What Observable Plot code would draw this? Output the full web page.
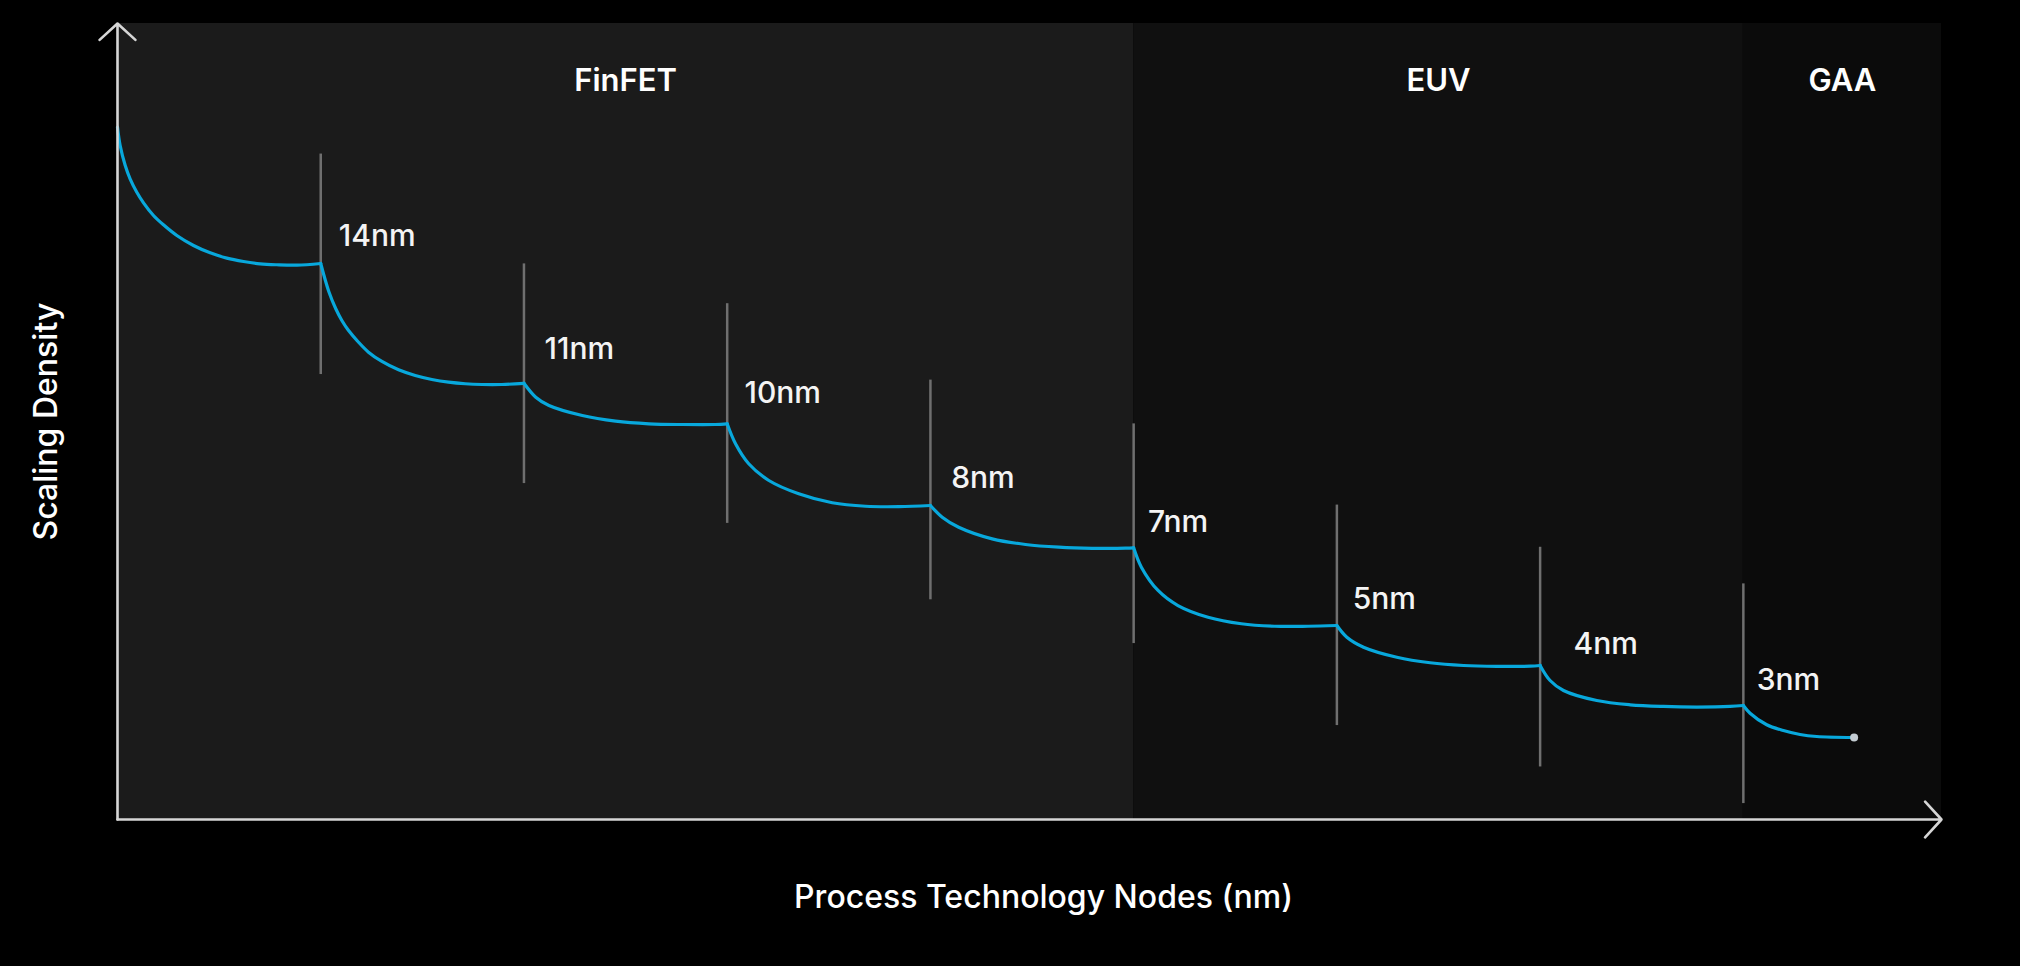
<!DOCTYPE html>
<html>
<head>
<meta charset="utf-8">
<script src="https://cdn.jsdelivr.net/npm/d3@7"></script>
<script src="https://cdn.jsdelivr.net/npm/@observablehq/plot@0.6"></script>
<style>
  html, body { margin: 0; padding: 0; background: #000; }
  #chart svg { display: block; }
</style>
</head>
<body>
<div id="chart"></div>
<script>
// ---- data ----
const eras = ["FinFET", "EUV", "GAA"];
const eraStart = [0, 5, 8];
const eraEnd = [5, 8, 8.975];

const nodeNames = ["14nm", "11nm", "10nm", "8nm", "7nm", "5nm", "4nm", "3nm"];
const nodeIndex = [1, 2, 3, 4, 5, 6, 7, 8];
const ruleTop = [83.6, 69.8, 64.8, 55.2, 49.7, 39.5, 34.2, 29.6];
const ruleBottom = [55.9, 42.2, 37.2, 27.6, 22.1, 11.8, 6.6, 2.0];
const labelX = [1.089, 2.101, 3.085, 4.102, 5.070, 6.078, 7.164, 8.066];
const labelY = [73.2, 59.1, 53.5, 42.8, 37.3, 27.6, 22.0, 17.5];

// scaling-density curve, one segment per node step
const curveSegment = [
  1,1,1,1,1,1,1,1,1,1,1,1,1,1,1,1,1,
  2,2,2,2,2,2,2,2,2,2,2,2,2,2,2,2,2,
  3,3,3,3,3,3,3,3,3,
  4,4,4,4,4,4,4,4,4,
  5,5,5,5,5,5,5,5,5,
  6,6,6,6,6,6,6,6,6,
  7,7,7,7,7,7,7,7,7,
  8,8,8,8,8,8,8,8,8,
  9,9,9,9,9,9,9
];
const curveX = [
  0.000, 0.013, 0.038, 0.062, 0.095, 0.128, 0.177, 0.226, 0.292, 0.374, 0.456, 0.538, 0.620, 0.702, 0.784, 0.883, 1.000,
  1.000, 1.016, 1.041, 1.074, 1.104, 1.137, 1.186, 1.235, 1.301, 1.383, 1.465, 1.547, 1.629, 1.711, 1.793, 1.891, 2.000,
  2.000, 2.058, 2.123, 2.287, 2.451, 2.615, 2.779, 2.941, 3.000,
  3.000, 3.041, 3.106, 3.205, 3.352, 3.517, 3.681, 3.845, 4.000,
  4.000, 4.058, 4.139, 4.304, 4.468, 4.632, 4.796, 4.960, 5.000,
  5.000, 5.038, 5.120, 5.218, 5.366, 5.530, 5.694, 5.858, 6.000,
  6.000, 6.049, 6.131, 6.295, 6.459, 6.623, 6.787, 6.951, 7.000,
  7.000, 7.049, 7.115, 7.279, 7.443, 7.607, 7.771, 7.935, 8.000,
  8.000, 8.033, 8.115, 8.197, 8.279, 8.361, 8.545
];
const curveY = [
  86.97, 84.67, 82.16, 80.49, 78.80, 77.47, 75.88, 74.71, 73.37, 72.11, 71.19, 70.52, 70.10, 69.81, 69.69, 69.64, 69.85,
  69.85, 68.34, 66.24, 64.16, 62.69, 61.43, 59.96, 58.71, 57.54, 56.49, 55.78, 55.28, 54.94, 54.74, 54.65, 54.65, 54.80,
  54.80, 53.05, 52.01, 50.75, 50.04, 49.71, 49.62, 49.62, 49.71,
  49.71, 47.20, 44.69, 42.59, 40.92, 39.79, 39.35, 39.30, 39.45,
  39.45, 37.98, 36.72, 35.26, 34.55, 34.21, 34.07, 34.08, 34.13,
  34.13, 31.70, 28.77, 26.88, 25.41, 24.59, 24.28, 24.28, 24.37,
  24.37, 22.90, 21.65, 20.39, 19.69, 19.35, 19.24, 19.26, 19.35,
  19.35, 17.46, 16.21, 14.95, 14.41, 14.20, 14.13, 14.20, 14.32,
  14.32, 13.35, 11.90, 11.18, 10.68, 10.43, 10.30
];

// ---- tables built from the arrays ----
const eraData = eras.map((name, i) => ({name, start: eraStart[i], end: eraEnd[i]}));
const nodeData = nodeNames.map((name, i) => ({
  name, x: nodeIndex[i], top: ruleTop[i], bottom: ruleBottom[i], lx: labelX[i], ly: labelY[i]
}));
const curveData = curveX.map((x, i) => ({seg: curveSegment[i], x, y: curveY[i]}));
const endPoint = [curveData[curveData.length - 1]];
const xMax = eraEnd[eraEnd.length - 1];
const yMax = 100;

const font = "Inter, 'Open Sans', sans-serif";

const chart = Plot.plot({
  width: 2020,
  height: 966,
  marginTop: 23,
  marginBottom: 147,
  marginLeft: 117,
  marginRight: 79,
  x: {domain: [0, xMax], axis: null},
  y: {domain: [0, yMax], axis: null},
  color: {domain: eras, range: ["#1b1b1b", "#101010", "#0b0b0b"]},
  style: {background: "#000", color: "#fff", fontFamily: font, overflow: "visible"},
  marks: [
    Plot.rect(eraData, {x1: "start", x2: "end", y1: () => 0, y2: () => yMax, fill: "name", inset: 0}),
    Plot.text(eraData, {
      x: d => (d.start + d.end) / 2, frameAnchor: "top", lineAnchor: "middle", dy: 58,
      text: "name", fill: "#fff", fontSize: 31, fontWeight: 600, fontFamily: font
    }),
    Plot.ruleX(nodeData, {x: "x", y1: "bottom", y2: "top", stroke: "#6f6f6f", strokeWidth: 2.5}),
    Plot.line(curveData, {
      x: "x", y: "y", z: "seg", curve: "catmull-rom",
      stroke: "#08a8dc", strokeWidth: 3.2, strokeLinejoin: "round"
    }),
    Plot.dot(endPoint, {x: "x", y: "y", r: 4, fill: "#c4ccd2", stroke: null}),
    Plot.text(nodeData, {
      x: "lx", y: "ly", text: "name", textAnchor: "start",
      fill: "#f4f4f4", fontSize: 30, fontWeight: 500, fontFamily: font
    }),
    Plot.arrow([{x1: 0, y1: 0, x2: 0, y2: yMax}], {
      x1: "x1", y1: "y1", x2: "x2", y2: "y2",
      stroke: "#d6d6d6", strokeWidth: 2.6, headLength: 14, headAngle: 95
    }),
    Plot.arrow([{x1: 0, y1: 0, x2: xMax, y2: 0}], {
      x1: "x1", y1: "y1", x2: "x2", y2: "y2",
      stroke: "#d6d6d6", strokeWidth: 2.6, headLength: 14, headAngle: 95
    }),
    Plot.text(["Process Technology Nodes (nm)"], {
      frameAnchor: "bottom", lineAnchor: "middle", textAnchor: "middle", dy: 78, dx: 14, text: d => d,
      fill: "#fff", fontSize: 32, fontWeight: 500, fontFamily: font
    }),
    Plot.text(["Scaling Density"], {
      frameAnchor: "left", lineAnchor: "middle", textAnchor: "middle", dx: -71, rotate: -90, text: d => d,
      fill: "#fff", fontSize: 32, fontWeight: 500, fontFamily: font
    })
  ]
});

document.getElementById("chart").appendChild(chart);
</script>
</body>
</html>
